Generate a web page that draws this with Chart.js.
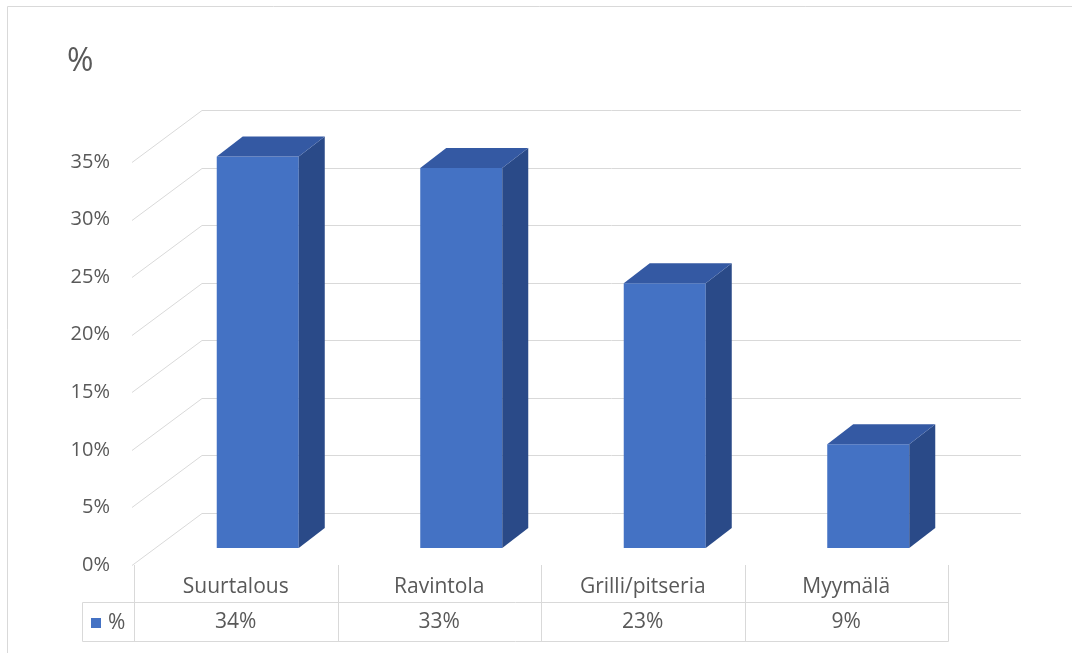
<!DOCTYPE html>
<html>
<head>
<meta charset="utf-8">
<script src="https://cdn.jsdelivr.net/npm/chart.js@4"></script>
<style>
  html, body { margin: 0; padding: 0; background: #ffffff; }
  #wrap { position: relative; width: 1072px; height: 653px; }
</style>
</head>
<body>
<div id="wrap"><canvas id="c"></canvas></div>
<script>
const categories = ['Suurtalous', 'Ravintola', 'Grilli/pitseria', 'Myymälä'];
const seriesName = '%';
const values = [34, 33, 23, 9];
const yMin = 0;
const yMax = 35;
const yStep = 5;
const chartTitle = '%';

const TEXT = '#595959';
const GRID = '#d9d9d9';
const FRONT = '#4472C4';
const TOP = '#3459A3';
const SIDE = '#2A4A88';
const FONT = '"Open Sans", "Liberation Sans", sans-serif';

// 3D geometry (pixel offsets of depth planes)
const WALL = { dx: 70, dy: -52 };
const BAR_FRONT = { dx: 22, dy: -17 };
const BAR_BACK = { dx: 48, dy: -37 };

const threeD = {
  id: 'threeD',
  beforeDatasetsDraw(chart) {
    const ctx = chart.ctx;
    const ys = chart.scales.y;
    const a = chart.chartArea;
    ctx.save();
    ctx.strokeStyle = GRID;
    ctx.lineWidth = 1;
    ys.ticks.forEach(t => {
      const py = Math.round(ys.getPixelForValue(t.value)) + 0.5;
      const x0 = a.left - 2;
      ctx.beginPath();
      ctx.moveTo(x0, py);
      ctx.lineTo(x0 + WALL.dx, py + WALL.dy);
      ctx.lineTo(a.right + WALL.dx + 3, py + WALL.dy);
      ctx.stroke();
    });
    ctx.restore();
    ctx.save();
    ctx.translate(BAR_FRONT.dx, BAR_FRONT.dy);
  },
  afterDatasetsDraw(chart) {
    const ctx = chart.ctx;
    ctx.restore();
    const meta = chart.getDatasetMeta(0);
    ctx.save();
    meta.data.forEach(bar => {
      const p = bar.getProps(['x', 'y', 'base', 'width'], true);
      const l = p.x - p.width / 2 + BAR_FRONT.dx;
      const r = p.x + p.width / 2 + BAR_FRONT.dx;
      const t = p.y + BAR_FRONT.dy;
      const b = p.base + BAR_FRONT.dy;
      const ddx = BAR_BACK.dx - BAR_FRONT.dx;
      const ddy = BAR_BACK.dy - BAR_FRONT.dy;
      // side
      ctx.fillStyle = SIDE;
      ctx.beginPath();
      ctx.moveTo(r, t);
      ctx.lineTo(r + ddx, t + ddy);
      ctx.lineTo(r + ddx, b + ddy);
      ctx.lineTo(r, b);
      ctx.closePath();
      ctx.fill();
      // top
      ctx.fillStyle = TOP;
      ctx.beginPath();
      ctx.moveTo(l, t);
      ctx.lineTo(l + ddx, t + ddy);
      ctx.lineTo(r + ddx, t + ddy);
      ctx.lineTo(r, t);
      ctx.closePath();
      ctx.fill();
    });
    ctx.restore();
  },
  afterDraw(chart) {
    const ctx = chart.ctx;
    const a = chart.chartArea;
    const xs = chart.scales.x;
    ctx.save();
    // outer frame (top & left)
    ctx.strokeStyle = GRID;
    ctx.lineWidth = 1;
    ctx.beginPath();
    ctx.moveTo(7.5, 653);
    ctx.lineTo(7.5, 6.5);
    ctx.lineTo(1072, 6.5);
    ctx.stroke();

    // title
    ctx.fillStyle = TEXT;
    ctx.font = '32px ' + FONT;
    ctx.textAlign = 'left';
    ctx.textBaseline = 'middle';
    ctx.fillText(chartTitle, 67, 62);

    // data table
    const top = a.bottom;
    const mid = 602.5;
    const bot = 641.5;
    const legLeft = 82.5;
    const colW = (a.right - a.left) / categories.length;
    ctx.strokeStyle = GRID;
    ctx.beginPath();
    for (let i = 0; i <= categories.length; i++) {
      const x = Math.round(a.left + i * colW) + 0.5;
      ctx.moveTo(x, top);
      ctx.lineTo(x, bot);
    }
    ctx.moveTo(legLeft, mid);
    ctx.lineTo(Math.round(a.right) + 0.5, mid);
    ctx.moveTo(legLeft, bot);
    ctx.lineTo(Math.round(a.right) + 0.5, bot);
    ctx.moveTo(legLeft, mid);
    ctx.lineTo(legLeft, bot);
    ctx.stroke();

    ctx.fillStyle = TEXT;
    ctx.font = '21px ' + FONT;
    ctx.textAlign = 'center';
    ctx.textBaseline = 'middle';
    categories.forEach((c, i) => {
      const cx = xs.getPixelForValue(i);
      ctx.fillText(c, cx, 587);
      ctx.fillText(values[i] + '%', cx, 622);
    });
    // legend key
    ctx.fillStyle = FRONT;
    ctx.fillRect(91, 618, 10, 10);
    ctx.fillStyle = TEXT;
    ctx.textAlign = 'left';
    ctx.fillText(seriesName, 108, 623);
    ctx.restore();
  }
};

new Chart(document.getElementById('c'), {
  type: 'bar',
  data: {
    labels: categories,
    datasets: [{
      label: seriesName,
      data: values,
      backgroundColor: FRONT,
      borderWidth: 0,
      barPercentage: 1,
      categoryPercentage: 0.403
    }]
  },
  options: {
    responsive: true,
    maintainAspectRatio: false,
    animation: false,
    events: [],
    layout: { padding: { left: 0, right: 124, top: 162, bottom: 88 } },
    plugins: {
      legend: { display: false },
      title: { display: false },
      tooltip: { enabled: false }
    },
    scales: {
      x: { display: false },
      y: {
        min: yMin,
        max: yMax,
        afterFit(s) { s.width = 134; },
        grid: { display: false, drawTicks: false },
        border: { display: false },
        ticks: {
          stepSize: yStep,
          padding: 24,
          color: TEXT,
          font: { family: FONT, size: 20 },
          callback: v => v + '%'
        }
      }
    }
  },
  plugins: [threeD]
});
</script>
</body>
</html>
